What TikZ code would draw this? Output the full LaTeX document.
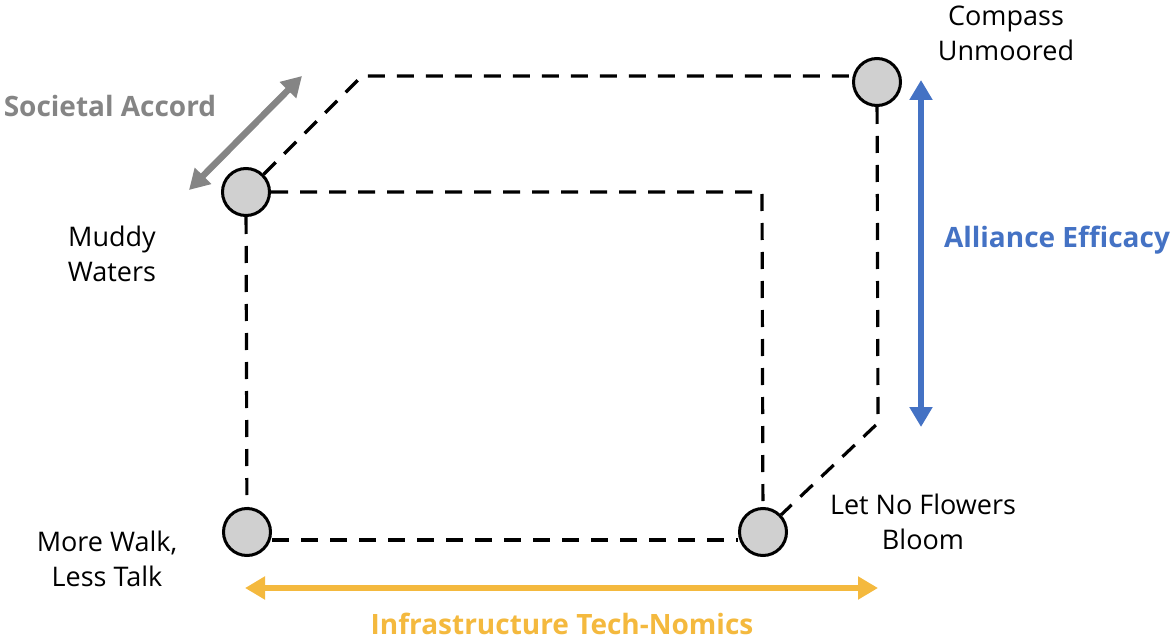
\documentclass[tikz,border=0pt]{standalone}
\usepackage{fontspec}
\setmainfont{Open Sans}
\usetikzlibrary{arrows.meta}
\definecolor{nodegray}{HTML}{D0D0D0}
\definecolor{axgray}{HTML}{858585}
\definecolor{axblue}{HTML}{4472C4}
\definecolor{axyellow}{HTML}{F4B93E}
\tikzset{
  corner/.style={circle,draw=black,fill=nodegray,line width=3pt,minimum size=47pt,inner sep=0pt},
  edge/.style={draw=black,line width=3.2pt,dash pattern=on 17pt off 12pt,line join=round},
  lbl/.style={align=center,font=\fontsize{27}{35}\selectfont,text=black,inner sep=0pt},
  axlbl/.style={font=\fontsize{28}{32}\selectfont\bfseries,inner sep=0pt},
  axarrow/.style={line width=6.5pt,{Triangle[length=20pt,width=22pt]}-{Triangle[length=20pt,width=22pt]}}
}
\begin{document}
\begin{tikzpicture}[x=1pt,y=-1pt]
\useasboundingbox (0,0) rectangle (1172,639);
% nodes
\node[corner] (mw) at (246,192) {};
\node[corner] (bl) at (247,532) {};
\node[corner] (br) at (763,532) {};
\node[corner] (cu) at (877,82) {};
\coordinate (ftr) at (762,192);
\coordinate (btl) at (362,76);
\coordinate (bbr) at (878,423);
% cube edges
\draw[edge] (mw) -- (ftr) -- (br);
\draw[edge] (mw) -- (btl) -- (cu.west |- btl);
\draw[edge] (cu) -- (bbr) -- (br);
\draw[edge] (mw) -- (bl);
\draw[edge] ([yshift=-8pt]bl.east) -- ([yshift=-8pt]br.west);
% axis arrows
\coordinate (ga) at (189,190);
\coordinate (gb) at (302,76);
\draw[axarrow,draw=axgray,fill=axgray] (ga) -- (gb);
\coordinate (ba) at (921,80);
\coordinate (bb) at (921,427);
\draw[axarrow,draw=axblue,fill=axblue] (ba) -- (bb);
\coordinate (ya) at (245,588);
\coordinate (yb) at (878,588);
\draw[axarrow,draw=axyellow,fill=axyellow] (ya) -- (yb);
% labels
\node[lbl] (tcu) at (1006,33) {Compass\\Unmoored};
\node[lbl] (tmw) at (112,254) {Muddy\\Waters};
\node[lbl] (tbl) at (107,559) {More Walk,\\Less Talk};
\node[lbl] (tbr) at (923,522) {Let No Flowers\\Bloom};
\node[axlbl,text=axgray] (tsoc) at (110,106) {Societal Accord};
\node[axlbl,text=axblue] (tall) at (1057,240) {Alliance Efficacy};
\node[axlbl,text=axyellow] (tinf) at (562,624) {Infrastructure Tech-Nomics};
\end{tikzpicture}
\end{document}
